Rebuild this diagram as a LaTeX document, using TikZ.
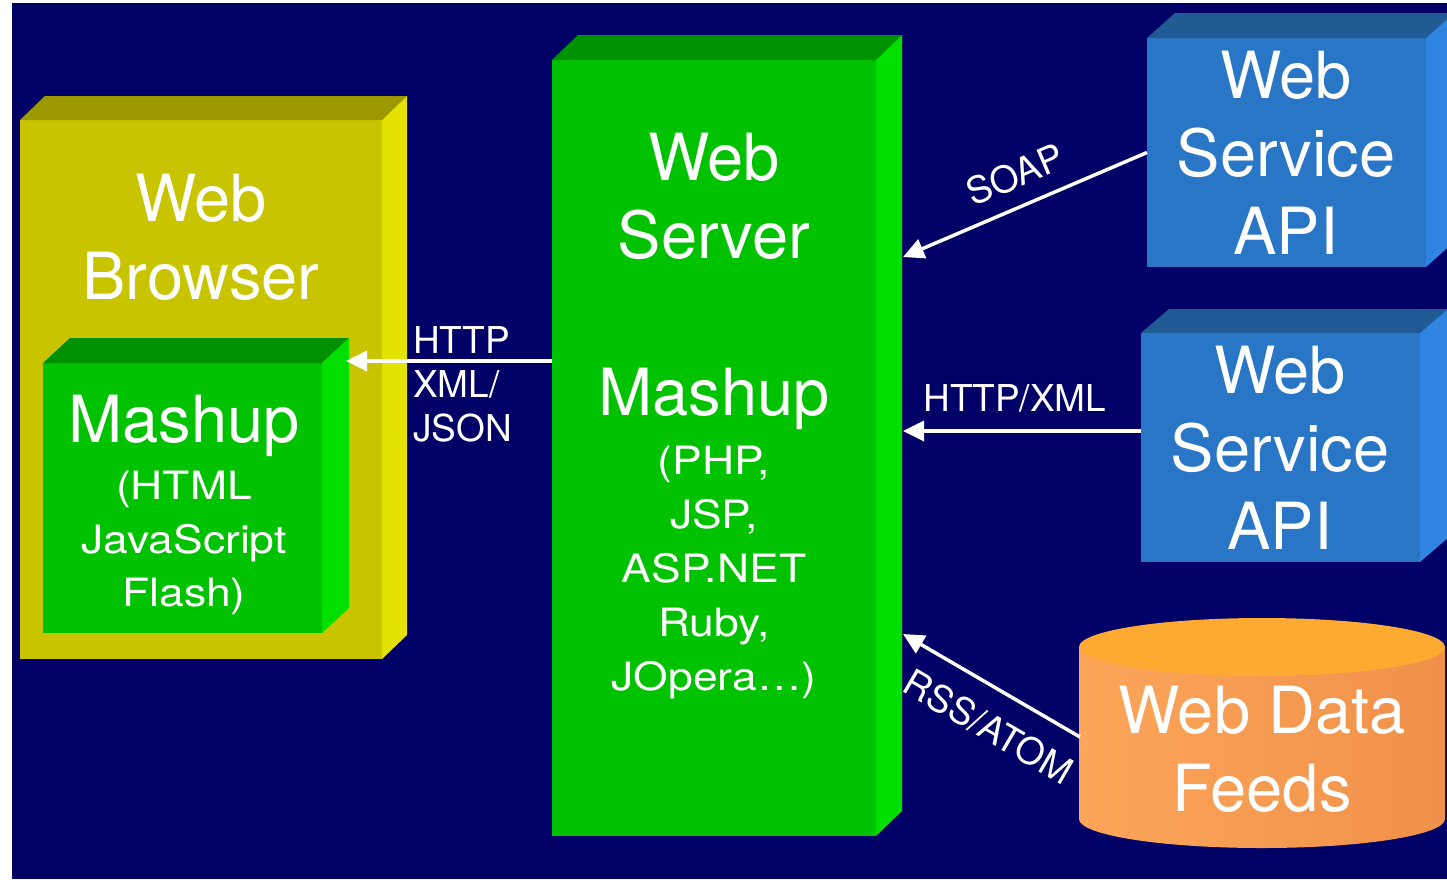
\documentclass[tikz,border=0pt]{standalone}
\usepackage{fontspec}
\setmainfont{TeX Gyre Heros}
\newfontfamily\widefont{TeX Gyre Heros}[FakeStretch=1.14]
\usetikzlibrary{arrows.meta,calc}

\definecolor{navy}{RGB}{0,0,102}
\definecolor{olivefront}{RGB}{200,196,0}
\definecolor{olivetop}{RGB}{155,152,0}
\definecolor{oliveside}{RGB}{228,226,0}
\definecolor{greenfront}{RGB}{0,194,0}
\definecolor{greentop}{RGB}{0,145,0}
\definecolor{greenside}{RGB}{0,224,0}
\definecolor{bluefront}{RGB}{42,118,198}
\definecolor{bluetop}{RGB}{33,91,150}
\definecolor{blueside}{RGB}{46,132,222}
\definecolor{feedtop}{RGB}{252,170,50}
\definecolor{feedleft}{RGB}{252,166,90}
\definecolor{feedright}{RGB}{240,144,74}

\tikzset{
  face/.style={inner sep=0pt, outer sep=0pt, anchor=north west},
  bigtext/.style={text=white, font=\fontsize{65}{78}\selectfont, align=center, inner sep=0pt, anchor=north},
  smalltext/.style={text=white, font=\widefont\fontsize{39}{54}\selectfont, align=center, inner sep=0pt, anchor=north},
  lbl/.style={text=white, font=\fontsize{37}{44}\selectfont, inner sep=0pt},
  arr/.style={white, line width=3.5pt, -{Triangle[length=21pt,width=20pt]}},
}

% top and right faces of a box whose front face is node #1
\newcommand\boxfaces[5]{%
  \fill[#4] (#1.north west) -- ++(#2,-#3) -- ($(#1.north east)+(#2,-#3)$) -- (#1.north east) -- cycle;
  \fill[#5] (#1.north east) -- ++(#2,-#3) -- ($(#1.south east)+(#2,-#3)$) -- (#1.south east) -- cycle;
}

\begin{document}
\begin{tikzpicture}[x=1pt,y=-1pt]
  \clip (0,0) rectangle (1447,879);
  \fill[white] (0,0) rectangle (1447,879);
  \fill[navy] (12,3) rectangle (1447,879);

  % web browser
  \node[face, fill=olivefront, minimum width=362pt, minimum height=539pt] (browser) at (20,120) {};
  \boxfaces{browser}{25}{24}{olivetop}{oliveside}
  \node[bigtext] (browsertxt) at (201,174) {Web\\Browser};

  % client-side mashup inside the browser
  \node[face, fill=greenfront, minimum width=279pt, minimum height=270pt] (mash) at (43,363) {};
  \boxfaces{mash}{27}{25}{greentop}{greenside}
  \node[bigtext] (mashtxt) at (184,395) {Mashup};
  \node[smalltext, font=\widefont\fontsize{39}{53.5}\selectfont] (mashlangs) at (184,471) {(HTML\\JavaScript\\Flash)};

  % web server
  \node[face, fill=greenfront, minimum width=324pt, minimum height=776pt] (server) at (552,60) {};
  \boxfaces{server}{26}{25}{greentop}{greenside}
  \node[bigtext] (servertxt) at (714,133) {Web\\Server};
  \node[bigtext] (servermash) at (714,368) {Mashup};
  \node[smalltext] (serverlangs) at (714,446) {(PHP,\\JSP,\\ASP.NET\\Ruby,\\JOpera\ldots)};

  % web service APIs
  \node[face, fill=bluefront, minimum width=279pt, minimum height=229pt] (api1) at (1147,38) {};
  \boxfaces{api1}{28}{25}{bluetop}{blueside}
  \node[bigtext] (api1txt) at (1286,51) {Web\\Service\\API};

  \node[face, fill=bluefront, minimum width=279pt, minimum height=229pt] (api2) at (1141,333) {};
  \boxfaces{api2}{28}{24}{bluetop}{blueside}
  \node[bigtext] (api2txt) at (1280,346) {Web\\Service\\API};

  % web data feeds cylinder
  \shade[left color=feedleft, right color=feedright] (1079,647) rectangle (1445,819);
  \shade[left color=feedleft, right color=feedright] (1262,819) ellipse[x radius=183, y radius=29];
  \fill[feedtop] (1262,647) ellipse[x radius=183, y radius=29];
  \node[bigtext] (feeds) at (1262,686) {Web Data\\Feeds};

  % connector ends
  \coordinate (mashin) at (346,361);
  \coordinate (srvsoap) at (903,257);
  \coordinate (srvhttp) at (903,431);
  \coordinate (srvrss) at (903,634);
  \coordinate (feedsout) at (1080,737);

  % connectors
  \draw[arr] (server.west |- mashin) -- (mashin);
  \node[lbl, align=left, anchor=north west] (httplbl) at (413,326) {HTTP\\XML/\\JSON};
  \draw[arr] (api1.west) -- node[lbl, sloped, pos=.49, above=16pt] (soaplbl) {SOAP} (srvsoap);
  \draw[arr] (api2.west |- srvhttp) -- node[lbl, pos=.53, above=17pt] (httpxmllbl) {HTTP/XML} (srvhttp);
  \draw[arr] (feedsout) -- node[lbl, sloped, pos=.41, below=21pt] (rsslbl) {RSS/ATOM} (srvrss);
\end{tikzpicture}
\end{document}
